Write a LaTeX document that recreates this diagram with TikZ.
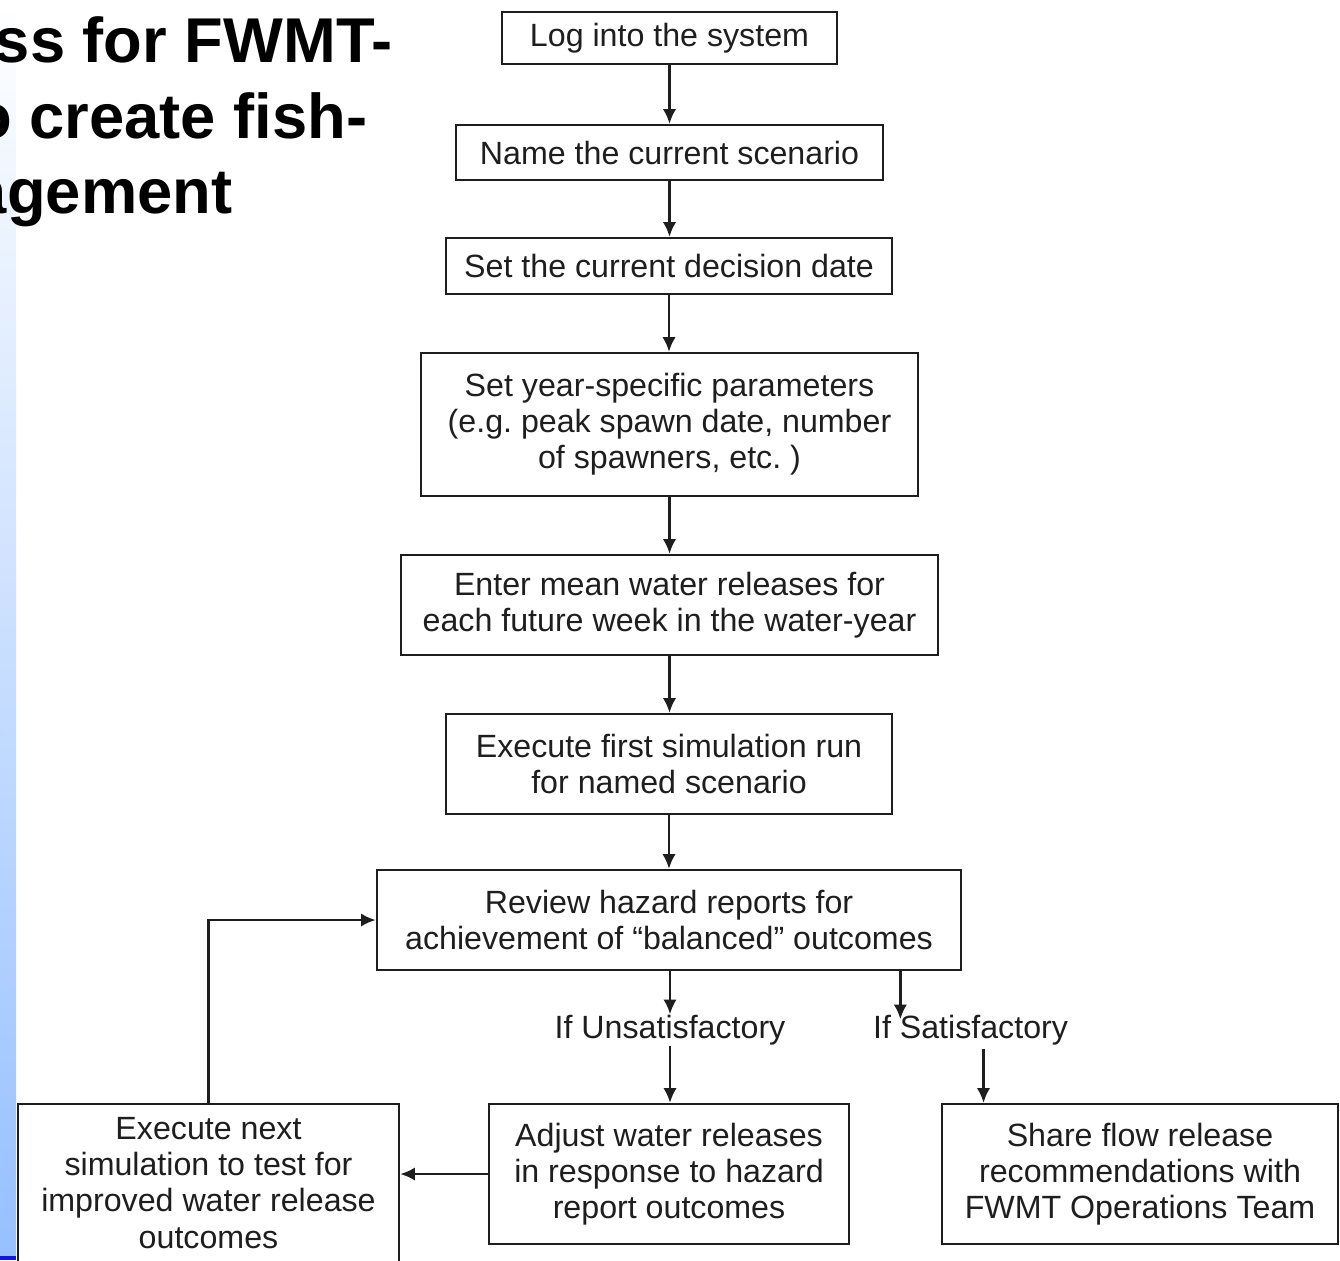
\documentclass[tikz,border=0pt]{standalone}
\usepackage{fontspec}
\setmainfont{Liberation Sans}
\usetikzlibrary{arrows.meta,positioning,calc}

\definecolor{stripblue}{HTML}{96C0FF}
\definecolor{barblue}{HTML}{1414E6}
\definecolor{inkgrey}{HTML}{1E1E1E}

\tikzset{
  stepbox/.style={draw=inkgrey, line width=0.6pt, align=center, inner sep=0pt,
    text=inkgrey, font=\fontsize{9.15}{10.25}\selectfont},
  branch/.style={inner sep=0pt, text=inkgrey, font=\fontsize{9.15}{10.25}\selectfont},
  flow/.style={-{Latex[length=4.2pt,width=3.8pt]}, line width=0.75pt, draw=inkgrey},
  heading/.style={anchor=base east, inner sep=0pt, font=\fontsize{18}{21.6}\selectfont\bfseries}
}

\begin{document}
\begin{tikzpicture}[x=0.01cm,y=-0.01cm]
  \useasboundingbox (0,0) rectangle (1340,1260);
  % faixa lateral
  \shade[top color=white, bottom color=stripblue] (0,0) rectangle (16,1256);
  \fill[barblue] (0,1256) rectangle (16,1260);
  % titulo (cortado)
  \node[heading] (title1) at (393,62) {ss for FWMT-};
  \node[heading] (title2) at (368,138) {o create fish-};
  \node[heading] (title3) at (233,213) {agement};
  % passos
  \node[stepbox, minimum width=3.35cm, minimum height=0.52cm] (login) at (669.5,38) {Log into the system};
  \node[stepbox, minimum width=4.27cm, minimum height=0.55cm] (name) at (669.5,152.5) {Name the current scenario};
  \node[stepbox, minimum width=4.46cm, minimum height=0.56cm] (date) at (669,266) {Set the current decision date};
  \node[stepbox, minimum width=4.97cm, minimum height=1.43cm] (param) at (669.5,424.5)
    {Set year-specific parameters\\(e.g.\ peak spawn date, number\\of spawners, etc.\ )};
  \node[stepbox, minimum width=5.37cm, minimum height=1.00cm] (enter) at (669.5,605)
    {Enter mean water releases for\\each future week in the water-year};
  \node[stepbox, minimum width=4.46cm, minimum height=1.00cm] (first) at (669,764)
    {Execute first simulation run\\for named scenario};
  \node[stepbox, minimum width=5.84cm, minimum height=1.00cm] (review) at (669,920)
    {Review hazard reports for\\achievement of “balanced” outcomes};
  \node[stepbox, minimum width=3.81cm, minimum height=1.58cm] (next) at (208.5,1183)
    {Execute next\\simulation to test for\\improved water release\\outcomes};
  \node[stepbox, minimum width=3.60cm, minimum height=1.40cm] (adjust) at (669,1174)
    {Adjust water releases\\in response to hazard\\report outcomes};
  \node[stepbox, minimum width=3.96cm, minimum height=1.40cm] (share) at (1140,1174)
    {Share flow release\\recommendations with\\FWMT Operations Team};
  % rotulos
  \node[branch] (unsat) at (670,1030) {If Unsatisfactory};
  \node[branch] (sat) at (970.5,1030) {If Satisfactory};
  % setas
  \foreach \a/\b in {login/name, name/date, date/param, param/enter, enter/first, first/review}
    \draw[flow] (\a.south) -- (\a.south |- \b.north);
  \draw[flow] (review.south -| unsat.north) -- (unsat.north);
  \draw[flow] (unsat.south) -- (unsat.south |- adjust.north);
  \coordinate (satin) at ($(sat.north west)+(28,5)$);
  \draw[flow] (satin |- review.south) -- (satin);
  \coordinate (satout) at ($(sat.south)+(13,3)$);
  \draw[flow] (satout) -- (satout |- share.north);
  \draw[flow] (adjust.west) -- (adjust.west -| next.east);
  \draw[flow] (next.north) -- (next.north |- review.west) -- (review.west);
\end{tikzpicture}
\end{document}
